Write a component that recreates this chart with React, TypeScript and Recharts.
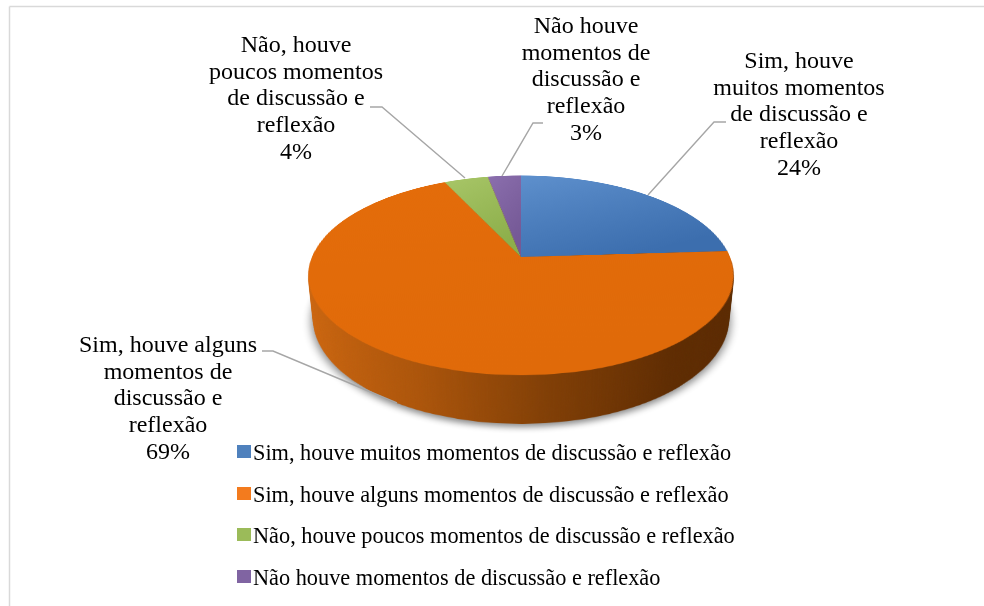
import React from 'react';
import { PieChart, Pie, Cell, Legend } from 'recharts';

// ---------- data ----------
const categories = [
  'Sim, houve muitos momentos de discussão e reflexão',
  'Sim, houve alguns momentos de discussão e reflexão',
  'Não, houve poucos momentos de discussão e reflexão',
  'Não houve momentos de discussão e reflexão',
];
const values = [24, 69, 4, 3];
const labelLines = [
  ['Sim, houve', 'muitos momentos', 'de discussão e', 'reflexão'],
  ['Sim, houve alguns', 'momentos de', 'discussão e', 'reflexão'],
  ['Não, houve', 'poucos momentos', 'de discussão e', 'reflexão'],
  ['Não houve', 'momentos de', 'discussão e', 'reflexão'],
];

const data = categories.map((name, i) => ({ name, value: values[i] }));

// ---------- layout / style ----------
const W = 984;
const H = 606;
const PIE_CX = 521;
const PIE_CY = 257;
const R = 209;
const TILT = 62.5;
const PERSPECTIVE = 1009;
const DEPTH = 49;
const S = 2 * R + 12;
const SERIF = '"Liberation Serif", "Times New Roman", Times, serif';

const TOP_STOPS = [
  ['#5E90CD', '#3C6EAE'],
  ['#E46C0A', '#E06A09'],
  ['#A8C668', '#8DAF4B'],
  ['#8B6FAE', '#755996'],
];
const SIDE_STOPS: [number, string][] = [
  [0, '#D06810'],
  [0.3, '#AC550B'],
  [0.55, '#813F06'],
  [0.8, '#5F2C02'],
  [1, '#5A2902'],
];
const LEGEND_COLORS = ['#4F81BD', '#F37B1E', '#9BBB59', '#8064A2'];

const LABEL_LAYOUT = [
  { x: 799, y: 68, line: [[726, 122], [714, 122], [648, 195]] },
  { x: 168, y: 352, line: [[262, 351], [273, 351], [397, 403]] },
  { x: 296, y: 52, line: [[370, 107], [382, 107], [465, 178]] },
  { x: 586, y: 33, line: [[543, 123], [533, 123], [502, 176]] },
];
const LINE_STEP = 26.7;

type Mode = 'top' | 'side' | 'shadow';

function Disk({ z, mode }: { z: number; mode: Mode }) {
  const id = `g${mode}${z}`;
  let defs: React.ReactNode = null;
  let fills: string[] = [];
  if (mode === 'top') {
    defs = TOP_STOPS.map((st, i) => (
      <linearGradient key={i} id={`${id}_${i}`} x1="0" y1="0" x2="0.5" y2="1">
        <stop offset="0" stopColor={st[0]} />
        <stop offset="1" stopColor={st[1]} />
      </linearGradient>
    ));
    fills = data.map((_, i) => `url(#${id}_${i})`);
  } else if (mode === 'side') {
    defs = (
      <linearGradient id={id} gradientUnits="userSpaceOnUse" x1={0} y1={0} x2={S} y2={0}>
        {SIDE_STOPS.map(([o, c], i) => (
          <stop key={i} offset={o} stopColor={c} />
        ))}
      </linearGradient>
    );
    fills = data.map(() => `url(#${id})`);
  } else {
    fills = data.map(() => '#000000');
  }
  return (
    <div
      style={{
        position: 'absolute',
        left: PIE_CX - S / 2,
        top: PIE_CY - S / 2,
        width: S,
        height: S,
        transform: `translateZ(${-z}px)`,
      }}
    >
      <div style={mode === 'shadow' ? { filter: 'blur(4px)', opacity: 0.45 } : undefined}>
        <PieChart width={S} height={S} margin={{ top: 0, right: 0, bottom: 0, left: 0 }}>
          <defs>{defs}</defs>
          <Pie
            data={data}
            dataKey="value"
            nameKey="name"
            cx={S / 2}
            cy={S / 2}
            outerRadius={mode === 'shadow' ? R + 2 : R}
            startAngle={90}
            endAngle={-270}
            stroke="none"
            isAnimationActive={false}
          >
            {data.map((_, i) => (
              <Cell key={i} fill={fills[i]} stroke="none" />
            ))}
          </Pie>
        </PieChart>
      </div>
    </div>
  );
}

const renderLabel = (props: any) => {
  const { index, percent } = props;
  const L = LABEL_LAYOUT[index];
  const lines = [...labelLines[index], `${Math.round(percent * 100)}%`];
  return (
    <g key={`lbl${index}`}>
      <polyline
        points={L.line.map((p) => p.join(',')).join(' ')}
        fill="none"
        stroke="#A6A6A6"
        strokeWidth={1.4}
      />
      <text
        x={L.x}
        y={L.y}
        textAnchor="middle"
        fontFamily={SERIF}
        fontSize={24}
        fill="#000000"
      >
        {lines.map((t, i) => (
          <tspan key={i} x={L.x} y={L.y + i * LINE_STEP}>
            {t}
          </tspan>
        ))}
      </text>
    </g>
  );
};

const renderLegend = (props: any) => {
  const payload: any[] = props.payload || [];
  // keep the series order of the data (legend payload may come sorted)
  const items = categories.map((name, i) => {
    const p = payload.find((q) => q.value === name);
    return { name: p ? p.value : name, color: LEGEND_COLORS[i] };
  });
  return (
    <div style={{ position: 'relative', width: 600, height: 160, fontFamily: SERIF }}>
      {items.map((p, i) => (
        <React.Fragment key={i}>
          <div
            style={{
              position: 'absolute',
              left: 0,
              top: 8 + i * 41.5,
              width: 14,
              height: 13,
              background: p.color,
            }}
          />
          <div
            style={{
              position: 'absolute',
              left: 16,
              top: 5.3 + i * 41.5,
              fontSize: 22.3,
              lineHeight: '22.3px',
              whiteSpace: 'nowrap',
              color: '#000',
            }}
          >
            {p.name}
          </div>
        </React.Fragment>
      ))}
    </div>
  );
};

export default function App() {
  const sideZ: number[] = [];
  for (let z = DEPTH; z >= 1; z--) sideZ.push(z);
  return (
    <div
      style={{
        position: 'absolute',
        left: 0,
        top: 0,
        width: W,
        height: H,
        overflow: 'hidden',
        background: '#ffffff',
      }}
    >
      <svg width={W} height={H} style={{ position: 'absolute', left: 0, top: 0 }}>
        <line x1={9.5} y1={6.5} x2={W} y2={6.5} stroke="#D9D9D9" strokeWidth={1.5} />
        <line x1={9.5} y1={6.5} x2={9.5} y2={H} stroke="#D9D9D9" strokeWidth={1.5} />
      </svg>

      <div
        style={{
          position: 'absolute',
          left: 0,
          top: 0,
          width: W,
          height: H,
          perspective: `${PERSPECTIVE}px`,
          perspectiveOrigin: `${PIE_CX}px ${PIE_CY}px`,
        }}
      >
        <div
          style={{
            position: 'absolute',
            left: 0,
            top: 0,
            width: W,
            height: H,
            transformOrigin: `${PIE_CX}px ${PIE_CY}px`,
            transform: `rotateX(${TILT}deg)`,
            transformStyle: 'preserve-3d',
          }}
        >
          <Disk z={DEPTH + 2} mode="shadow" />
          {sideZ.map((z) => (
            <Disk key={z} z={z} mode="side" />
          ))}
          <Disk z={0} mode="top" />
        </div>
      </div>

      <div style={{ position: 'absolute', left: 0, top: 0, width: W, height: H }}>
        <PieChart width={W} height={H} margin={{ top: 0, right: 0, bottom: 0, left: 0 }}>
          <Pie
            data={data}
            dataKey="value"
            nameKey="name"
            cx={PIE_CX}
            cy={PIE_CY}
            outerRadius={1}
            startAngle={90}
            endAngle={-270}
            stroke="none"
            isAnimationActive={false}
            label={renderLabel}
            labelLine={false}
            legendType="square"
          >
            {data.map((_, i) => (
              <Cell key={i} fill={LEGEND_COLORS[i]} fillOpacity={0} stroke="none" />
            ))}
          </Pie>
          <Legend
            content={renderLegend}
            layout="vertical"
            wrapperStyle={{ position: 'absolute', left: 237, top: 437, width: 600, height: 160 }}
          />
        </PieChart>
      </div>
    </div>
  );
}
